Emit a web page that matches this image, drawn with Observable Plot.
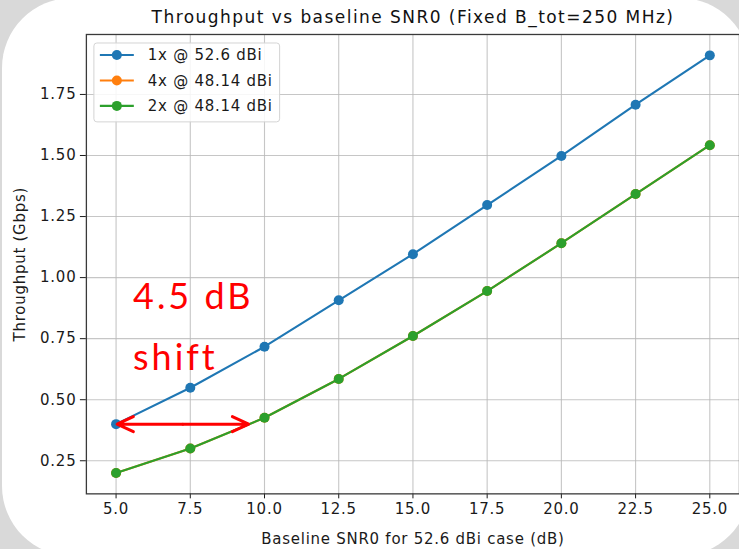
<!DOCTYPE html>
<html>
<head>
<meta charset="utf-8">
<script src="https://cdn.jsdelivr.net/npm/d3@7"></script>
<script src="https://cdn.jsdelivr.net/npm/@observablehq/plot@0.6"></script>
<style>
  html, body { margin: 0; padding: 0; width: 739px; height: 549px; overflow: hidden; background: #d9d9d9; }
  .card { position: absolute; left: 2px; top: -2px; width: 748px; height: 558px; border-radius: 70px; background: #fff; }
  #chart { position: absolute; left: 0; top: 0; width: 739px; height: 549px; }
  .title { position: absolute; left: 86px; width: 654px; top: 0; height: 26px; text-align: center;
           font-family: "DejaVu Sans", sans-serif; font-size: 17px; line-height: 34px; color: #111; letter-spacing: 1.45px; }
  #plot { position: absolute; left: 0; top: 26px; }
  #plot svg text { letter-spacing: 0.75px; }
</style>
</head>
<body>
<div class="card"></div>
<div id="chart">
  <div class="title">Throughput vs baseline SNR0 (Fixed B_tot=250 MHz)</div>
  <div id="plot"></div>
</div>
<script>
// Baseline SNR0 (dB) for the 52.6 dBi case
const snr = [5, 7.5, 10, 12.5, 15, 17.5, 20, 22.5, 25];
// Throughput (Gbps) per antenna configuration
const tp1x = [0.40, 0.549, 0.717, 0.907, 1.096, 1.297, 1.498, 1.708, 1.910];
const tp4x = [0.20, 0.300, 0.426, 0.585, 0.761, 0.945, 1.141, 1.342, 1.542];
const tp2x = [0.20, 0.300, 0.426, 0.585, 0.761, 0.945, 1.141, 1.342, 1.542];

const seriesNames = ["1x @ 52.6 dBi", "4x @ 48.14 dBi", "2x @ 48.14 dBi"];
const seriesColors = ["#1f77b4", "#ff7f0e", "#2ca02c"];
const seriesValues = [tp1x, tp4x, tp2x];

const xTicks = [5, 7.5, 10, 12.5, 15, 17.5, 20, 22.5, 25];
const yTicks = [0.25, 0.5, 0.75, 1.0, 1.25, 1.5, 1.75];

const xLabel = "Baseline SNR0 for 52.6 dBi case (dB)";
const yLabel = "Throughput (Gbps)";

// Gain difference annotation
const shiftDb = 4.5;
const shiftText = "4.5 dB\nshift";

const rows = seriesNames.map((name, i) =>
  snr.map((s, j) => ({series: name, snr: s, tp: seriesValues[i][j]})));

const arrowY = tp1x[0];
const arrowMid = snr[0] + shiftDb / 2;
const arrows = [
  {x1: arrowMid, x2: snr[0], y: arrowY},
  {x1: arrowMid, x2: snr[0] + shiftDb, y: arrowY}
];

const seriesMarks = rows.flatMap((data, i) => [
  Plot.line(data, {x: "snr", y: "tp", stroke: seriesColors[i], strokeWidth: 2.1}),
  Plot.dot(data, {x: "snr", y: "tp", fill: seriesColors[i], r: 5, stroke: "none"})
]);

const svg = Plot.plot({
  width: 740,
  height: 523,
  marginTop: 8,
  marginBottom: 55,
  marginLeft: 86,
  marginRight: 0,
  style: {fontFamily: "DejaVu Sans, sans-serif", fontSize: "15px", color: "#1a1a1a", background: "transparent", overflow: "visible"},
  x: {domain: [4, 26]},
  y: {domain: [0.1145, 1.9955]},
  marks: [
    Plot.gridX(xTicks, {stroke: "#b8b8b8", strokeOpacity: 0.8, strokeWidth: 1.1}),
    Plot.gridY(yTicks, {stroke: "#b8b8b8", strokeOpacity: 0.8, strokeWidth: 1.1}),
    Plot.axisX({ticks: xTicks, tickFormat: d3.format(".1f"), tickSize: 5, tickPadding: 5,
      label: xLabel, labelAnchor: "center", labelArrow: "none", labelOffset: 50, fontSize: 15}),
    Plot.axisY({ticks: yTicks, tickFormat: d3.format(".2f"), tickSize: 6, tickPadding: 4,
      label: yLabel, labelAnchor: "center", labelArrow: "none", labelOffset: 72, fontSize: 15}),
    Plot.frame({stroke: "#3a3a3a", strokeWidth: 1.3}),
    ...seriesMarks,
    Plot.arrow(arrows, {x1: "x1", x2: "x2", y1: "y", y2: "y", stroke: "#ff0000", strokeWidth: 3,
      headLength: 9, headAngle: 50, insetEnd: 1}),
    Plot.text([{x: snr[0], y: 1.045, t: shiftText}], {x: "x", y: "y", text: "t", dx: 17,
      textAnchor: "start", lineAnchor: "top", lineHeight: 1.68, fill: "#ff0000",
      fontSize: 36, fontFamily: "Lato, sans-serif"})
  ]
});

// Legend box in the upper left of the axes
const legend = d3.select(svg).append("g").attr("transform", "translate(94,17)")
  .attr("text-anchor", "start");
legend.append("rect")
  .attr("width", 186).attr("height", 79).attr("rx", 3)
  .attr("fill", "rgba(255,255,255,0.85)").attr("stroke", "#d4d4d4").attr("stroke-width", 1);
seriesNames.forEach((name, i) => {
  const g = legend.append("g").attr("transform", `translate(0,${12 + i * 25.5})`);
  g.append("line").attr("x1", 6).attr("x2", 40).attr("stroke", seriesColors[i]).attr("stroke-width", 2.1);
  g.append("circle").attr("cx", 23).attr("r", 5).attr("fill", seriesColors[i]);
  g.append("text").attr("x", 54).attr("dy", "0.36em").attr("fill", "#1a1a1a")
    .attr("text-anchor", "start").style("font-size", "15px").text(name);
});

d3.select(svg).selectAll('g[aria-label="text"] text').style("letter-spacing", "3px");

document.getElementById("plot").appendChild(svg);
</script>
</body>
</html>
